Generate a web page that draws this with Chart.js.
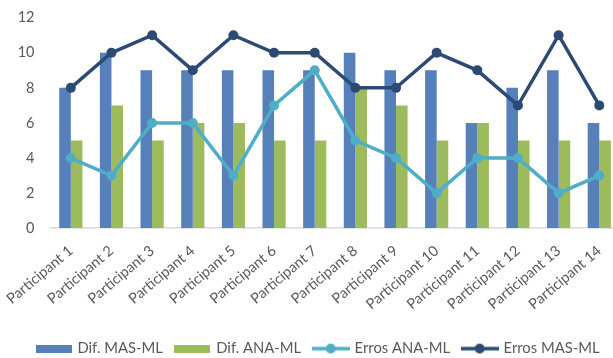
<!DOCTYPE html>
<html>
<head>
<meta charset="utf-8">
<script src="https://cdn.jsdelivr.net/npm/chart.js@4.4.1/dist/chart.umd.min.js"></script>
<style>
    html, body { margin: 0; padding: 0; background: #fff; overflow: hidden; }
    #wrap { position: relative; width: 637px; height: 365px; margin-top: -7px; }
</style>
</head>
<body>
<div id="wrap"><canvas id="chart"></canvas></div>
<script>
(function () {
    'use strict';

    const participants = [
        'Participant 1', 'Participant 2', 'Participant 3', 'Participant 4',
        'Participant 5', 'Participant 6', 'Participant 7', 'Participant 8',
        'Participant 9', 'Participant 10', 'Participant 11', 'Participant 12',
        'Participant 13', 'Participant 14'
    ];
    const difMasMl = [8, 10, 9, 9, 9, 9, 9, 10, 9, 9, 6, 8, 9, 6];
    const difAnaMl = [5, 7, 5, 6, 6, 5, 5, 8, 7, 5, 6, 5, 5, 5];
    const errosAnaMl = [4, 3, 6, 6, 3, 7, 9, 5, 4, 2, 4, 4, 2, 3];
    const errosMasMl = [8, 10, 11, 9, 11, 10, 10, 8, 8, 10, 9, 7, 11, 7];
    const yTicks = [0, 2, 4, 6, 8, 10, 12];

    const BLUE = '#5580BA';
    const GREEN = '#9BBB5D';
    const TEAL = '#4FADC8';
    const NAVY = '#2C4A74';
    const TEXT = '#595959';
    const FONT = 'Lato, "Open Sans", sans-serif';

    // little swatches for the legend: flat box for bars, line + dot for lines
    function boxSwatch(color) {
        const c = document.createElement('canvas');
        c.width = 36; c.height = 8;
        const g = c.getContext('2d');
        g.fillStyle = color;
        g.fillRect(0, 0, 36, 8);
        return c;
    }
    function lineSwatch(color) {
        const c = document.createElement('canvas');
        c.width = 38; c.height = 12;
        const g = c.getContext('2d');
        g.strokeStyle = color;
        g.lineWidth = 3.5;
        g.beginPath();
        g.moveTo(0, 6);
        g.lineTo(38, 6);
        g.stroke();
        g.fillStyle = color;
        g.beginPath();
        g.arc(19, 6, 5, 0, Math.PI * 2);
        g.fill();
        return c;
    }

    const lineStyle = (color) => ({
        type: 'line',
        borderColor: color,
        backgroundColor: color,
        borderWidth: 3.5,
        pointRadius: 5,
        pointHoverRadius: 5,
        pointBorderWidth: 0,
        tension: 0,
        order: 1
    });

    new Chart(document.getElementById('chart'), {
        data: {
            labels: participants,
            datasets: [
                { type: 'bar', label: 'Dif. MAS-ML', data: difMasMl, backgroundColor: BLUE, order: 2, swatch: boxSwatch(BLUE) },
                { type: 'bar', label: 'Dif. ANA-ML', data: difAnaMl, backgroundColor: GREEN, order: 2, swatch: boxSwatch(GREEN) },
                Object.assign({ label: 'Erros ANA-ML', data: errosAnaMl, swatch: lineSwatch(TEAL) }, lineStyle(TEAL)),
                Object.assign({ label: 'Erros MAS-ML', data: errosMasMl, swatch: lineSwatch(NAVY) }, lineStyle(NAVY))
            ]
        },
        options: {
            responsive: true,
            maintainAspectRatio: false,
            animation: false,
            datasets: {
                bar: { categoryPercentage: 0.57, barPercentage: 1 }
            },
            layout: { padding: { top: 0, right: 17.4, bottom: -8, left: 17 } },
            scales: {
                x: {
                    afterFit: (scale) => {
                        scale.height = 100;
                        // rotated labels may hang past the left edge
                        scale.paddingLeft = 0;
                        scale.paddingRight = 0;
                    },
                    grid: { display: false, drawTicks: false },
                    border: { color: '#D9D9D9', width: 1.5 },
                    ticks: {
                        color: TEXT,
                        font: { family: FONT, size: 14.5 },
                        minRotation: 40,
                        maxRotation: 40,
                        padding: 14,
                        autoSkip: false
                    }
                },
                y: {
                    min: 0,
                    max: 12,
                    afterBuildTicks: (scale) => { scale.ticks = yTicks.map(v => ({ value: v })); },
                    afterFit: (scale) => { scale.width = 33.5; },
                    grid: { display: false, drawTicks: false },
                    border: { display: false },
                    ticks: {
                        color: TEXT,
                        font: { family: FONT, size: 14.5 },
                        padding: 16
                    }
                }
            },
            plugins: {
                tooltip: { enabled: false },
                legend: {
                    position: 'bottom',
                    labels: {
                        color: TEXT,
                        font: { family: FONT, size: 14.8 },
                        usePointStyle: true,
                        pointStyleWidth: 33,
                        boxHeight: 12,
                        padding: 13,
                        generateLabels: (chart) => chart.data.datasets.map((ds, i) => ({
                            text: ds.label,
                            datasetIndex: i,
                            pointStyle: ds.swatch,
                            fillStyle: ds.backgroundColor,
                            strokeStyle: ds.backgroundColor,
                            lineWidth: 0,
                            fontColor: TEXT,
                            hidden: false
                        }))
                    }
                }
            }
        }
    });
})();
</script>
</body>
</html>
